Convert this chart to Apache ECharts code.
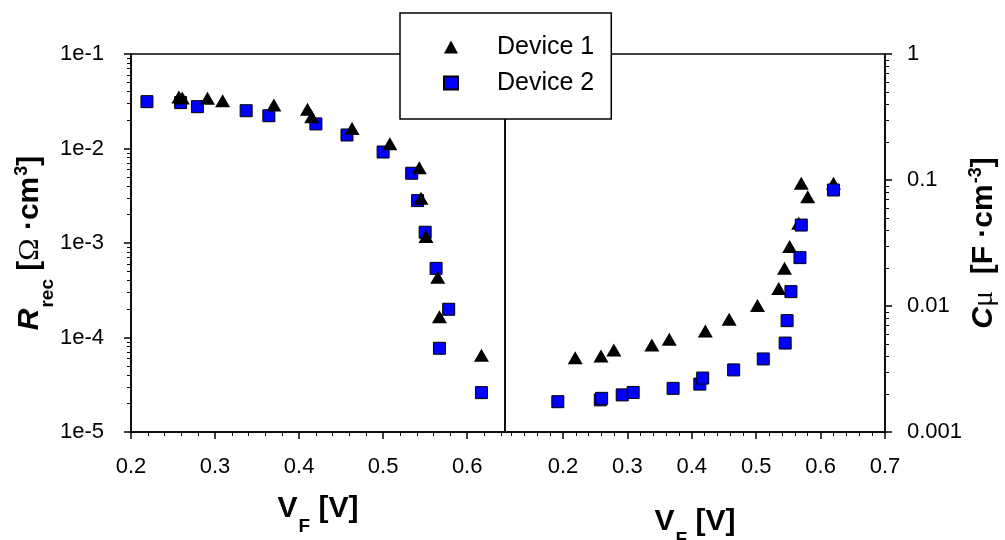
<!DOCTYPE html>
<html lang="en">
<head>
<meta charset="UTF-8">
<title>Rrec and Cmu vs VF</title>
<script src="https://cdn.jsdelivr.net/npm/echarts@6/dist/echarts.min.js"></script>
<style>
    html,body{margin:0;padding:0;background:#fff}
    #chart{width:1005px;height:540px}
</style>
</head>
<body>
<div id="chart"></div>
<script>
var seriesNames = ['Device 1', 'Device 2'];

// left panel: recombination resistance
var leftV1 = [0.257, 0.261, 0.291, 0.309, 0.370, 0.410, 0.415, 0.463, 0.508, 0.543, 0.545, 0.551, 0.565, 0.567, 0.617];
var leftR1 = [3.50e-2, 3.42e-2, 3.40e-2, 3.21e-2, 2.88e-2, 2.60e-2, 2.17e-2, 1.63e-2, 1.12e-2, 6.27e-3, 2.97e-3, 1.17e-3, 4.34e-4, 1.66e-4, 6.47e-5];
var leftV2 = [0.219, 0.259, 0.279, 0.337, 0.364, 0.420, 0.457, 0.500, 0.534, 0.541, 0.550, 0.563, 0.578, 0.567, 0.617];
var leftR2 = [3.13e-2, 3.06e-2, 2.77e-2, 2.51e-2, 2.22e-2, 1.82e-2, 1.39e-2, 9.18e-3, 5.47e-3, 2.81e-3, 1.30e-3, 5.39e-4, 1.99e-4, 7.69e-5, 2.61e-5];

// right panel: chemical capacitance
var rightV1 = [0.219, 0.259, 0.279, 0.338, 0.365, 0.421, 0.458, 0.502, 0.535, 0.544, 0.552, 0.566, 0.570, 0.580, 0.620];
var rightC1 = [3.89e-3, 4.01e-3, 4.48e-3, 4.91e-3, 5.44e-3, 6.33e-3, 7.84e-3, 1.01e-2, 1.38e-2, 1.99e-2, 2.96e-2, 4.53e-2, 9.41e-2, 7.37e-2, 9.41e-2];
var rightV2 = [0.192, 0.258, 0.260, 0.292, 0.309, 0.371, 0.4125, 0.417, 0.465, 0.511, 0.545, 0.548, 0.554, 0.568, 0.570, 0.620];
var rightC2 = [1.74e-3, 1.80e-3, 1.85e-3, 1.97e-3, 2.06e-3, 2.22e-3, 2.40e-3, 2.68e-3, 3.11e-3, 3.80e-3, 5.08e-3, 7.65e-3, 1.30e-2, 2.42e-2, 4.39e-2, 8.33e-2];

var leftXTicks = [0.2, 0.3, 0.4, 0.5, 0.6];
var rightXTicks = [0.2, 0.3, 0.4, 0.5, 0.6, 0.7];
var leftYTicks = [1e-5, 1e-4, 1e-3, 1e-2, 1e-1];
var rightYTicks = [0.001, 0.01, 0.1, 1];

var FONT = 'Liberation Sans';
var SERIF = 'Liberation Serif';

function pairs(xs, ys) {
    return xs.map(function (x, i) { return [x, ys[i]]; });
}
// 0.02 steps between the labelled ticks
function linMinor(from, to) {
    var out = [];
    for (var k = Math.round(from * 100); k <= Math.round(to * 100); k += 2) {
        if (k % 10 !== 0) out.push(k / 100);
    }
    return out;
}
// 2..9 inside every decade
function logMinor(lo, hi) {
    var out = [];
    for (var e = lo; e < hi; e++) {
        for (var m = 2; m <= 9; m++) out.push(+(m * Math.pow(10, e)).toPrecision(3));
    }
    return out;
}

var axisLine = {lineStyle: {color: '#000', width: 1.5}};
var labelStyle = {color: '#000', fontFamily: FONT, fontSize: 22};

var mainText = {fontFamily: FONT, fontSize: 30, fontWeight: 'bold', color: '#000', lineHeight: 30, verticalAlign: 'top', padding: [8, 0, 0, 0]};
function tok(extra) { return Object.assign({}, mainText, extra); }
var titleRich = {
    b: tok({}),
    i: tok({fontStyle: 'italic'}),
    sy: tok({fontFamily: SERIF, fontWeight: 'normal'}),
    sub: tok({fontSize: 19, lineHeight: 19, padding: [31, 0, 0, 1]}),
    sup: tok({fontSize: 18, lineHeight: 18, padding: [6, 0, 0, 1]})
};

function xMain(grid, min, max, ticks, gap) {
    return {
        gridIndex: grid, type: 'value', min: min, max: max,
        axisLine: axisLine,
        axisTick: {customValues: ticks, length: 7, lineStyle: {color: '#000', width: 1.5}},
        axisLabel: Object.assign({customValues: ticks, margin: 24, formatter: function (v) { return v.toFixed(1); }}, labelStyle),
        splitLine: {show: false},
        name: '{b|V}{sub|F}{b| [V]}', nameLocation: 'middle', nameGap: gap, nameMoveOverlap: false,
        nameTextStyle: {rich: titleRich}
    };
}
function xMinor(grid, min, max, ticks) {
    return {
        gridIndex: grid, type: 'value', min: min, max: max, position: 'bottom',
        axisLine: {show: false},
        axisTick: {customValues: ticks, length: 4, lineStyle: {color: '#000', width: 1}},
        axisLabel: {show: false}, splitLine: {show: false}
    };
}
function yMain(grid, min, max, ticks, pos, fmt, margin, name, gap) {
    return {
        gridIndex: grid, type: 'log', logBase: 10, min: min, max: max, position: pos,
        axisLine: axisLine,
        axisTick: {customValues: ticks, length: 7, lineStyle: {color: '#000', width: 1.5}},
        axisLabel: Object.assign({customValues: ticks, margin: margin, formatter: fmt}, labelStyle),
        splitLine: {show: false},
        name: name, nameLocation: 'middle', nameRotate: 90, nameGap: gap, nameMoveOverlap: false,
        nameTextStyle: {rich: titleRich}
    };
}
function yMinor(grid, min, max, ticks, pos) {
    return {
        gridIndex: grid, type: 'log', logBase: 10, min: min, max: max, position: pos,
        axisLine: {show: false},
        axisTick: {customValues: ticks, length: 4, lineStyle: {color: '#000', width: 1}},
        axisLabel: {show: false}, splitLine: {show: false}
    };
}

var triangle = {symbol: 'triangle', symbolSize: [15, 13], itemStyle: {color: '#000', opacity: 1}};
var square = {symbol: 'rect', symbolSize: 12, itemStyle: {color: '#0000ff', borderColor: '#000', borderWidth: 1, opacity: 1}};

var chart = echarts.init(document.getElementById('chart'));
chart.setOption({
    animation: false,
    backgroundColor: '#fff',
    grid: [
        {left: 131, top: 54, width: 374, height: 378, show: true, borderColor: '#000', borderWidth: 1.5, outerBoundsMode: 'none', containLabel: false},
        {left: 505, top: 54, width: 380, height: 378, show: true, borderColor: '#000', borderWidth: 1.5, outerBoundsMode: 'none', containLabel: false}
    ],
    legend: {
        data: seriesNames, orient: 'vertical', left: 400, top: 13,
        padding: [19, 17, 21, 43], itemGap: 6, itemWidth: 14, itemHeight: 13,
        backgroundColor: '#fff', borderColor: '#000', borderWidth: 1.5, z: 10,
        textStyle: {color: '#000', fontFamily: FONT, fontSize: 25, lineHeight: 30, padding: [0, 0, 0, 34]}
    },
    xAxis: [
        xMain(0, 0.2, 0.645, leftXTicks, 54),
        xMinor(0, 0.2, 0.645, linMinor(0.2, 0.64)),
        xMain(1, 0.11, 0.7, rightXTicks, 67),
        xMinor(1, 0.11, 0.7, linMinor(0.12, 0.7))
    ],
    yAxis: [
        yMain(0, 1e-5, 1e-1, leftYTicks, 'left', function (v) { return '1e' + Math.round(Math.log10(v)); }, 27,
            '{i|R}{sub|rec}{b| [}{sy|Ω}{b| ·cm}{sup|3}{b|]}', 94),
        yMinor(0, 1e-5, 1e-1, logMinor(-5, -1), 'left'),
        yMain(1, 0.001, 1, rightYTicks, 'right', function (v) { return String(v); }, 22,
            '{i|C}{sy|μ}{b|  [F ·cm}{sup|-3}{b|]}', 76),
        yMinor(1, 0.001, 1, logMinor(-3, 0), 'right')
    ],
    series: [
        Object.assign({name: seriesNames[1], type: 'scatter', xAxisIndex: 0, yAxisIndex: 0, data: pairs(leftV2, leftR2)}, square),
        Object.assign({name: seriesNames[0], type: 'scatter', xAxisIndex: 0, yAxisIndex: 0, data: pairs(leftV1, leftR1)}, triangle),
        Object.assign({name: seriesNames[0], type: 'scatter', xAxisIndex: 2, yAxisIndex: 2, data: pairs(rightV1, rightC1)}, triangle),
        Object.assign({name: seriesNames[1], type: 'scatter', xAxisIndex: 2, yAxisIndex: 2, data: pairs(rightV2, rightC2)}, square)
    ]
});
</script>
</body>
</html>
